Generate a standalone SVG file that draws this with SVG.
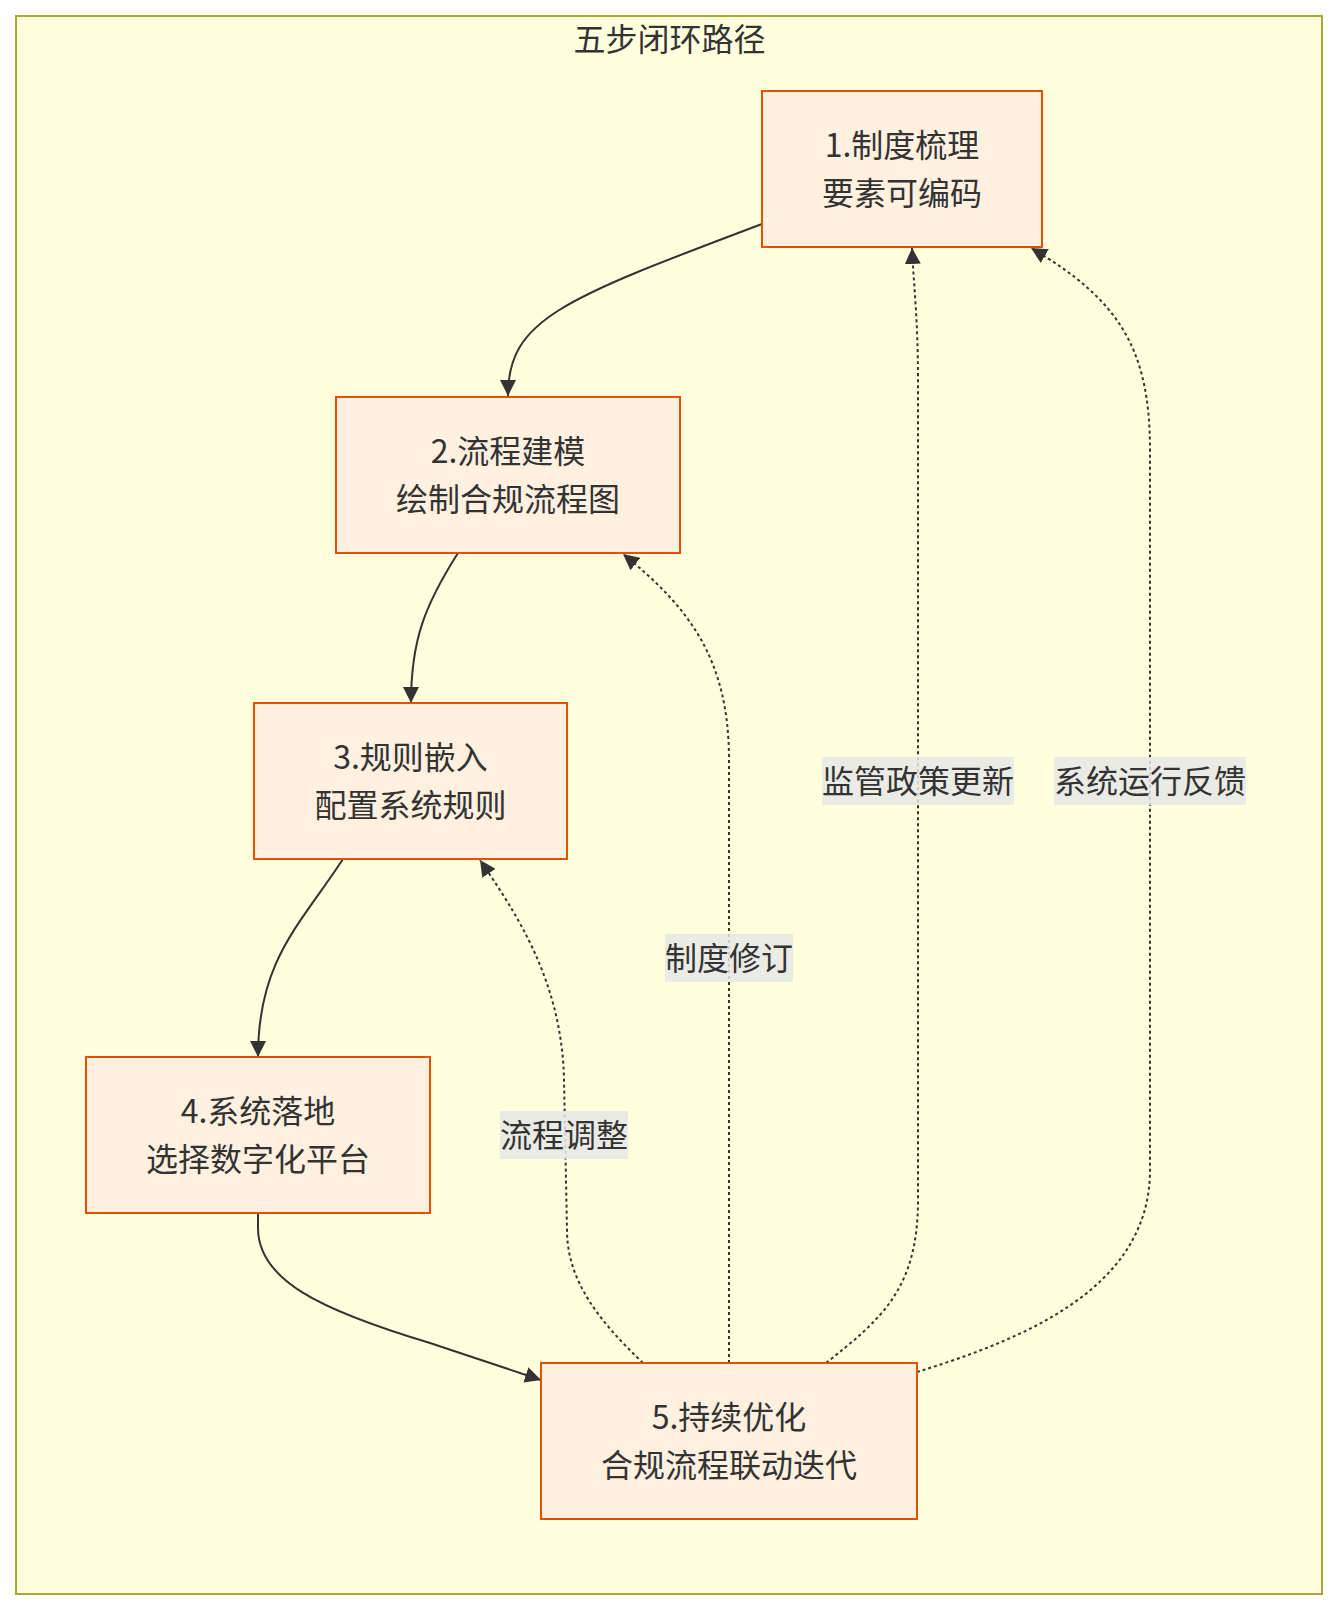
<svg xmlns="http://www.w3.org/2000/svg" width="1339" height="1610" viewBox="0 0 1339 1610">
<style>
.cluster{fill:#ffffde;stroke:#aaaa33;stroke-width:2}
.node rect{fill:#fff0e0;stroke:#e65100;stroke-width:2}
text{font-family:"Noto Sans CJK SC","Noto Sans",sans-serif;font-size:32px;fill:#333;text-anchor:middle}
.edge{fill:none;stroke:#333;stroke-width:2}
.dot{stroke-dasharray:3 3}
.lbl rect{fill:#e8e8e8;opacity:0.85}
</style>
<defs>
<marker id="arrow" markerUnits="userSpaceOnUse" markerWidth="16" markerHeight="16" viewBox="0 0 10 10" refX="10" refY="5" orient="auto">
<path d="M0,0 L10,5 L0,10 z" fill="#333"/>
</marker>
</defs>
<rect class="cluster" x="16" y="16" width="1306" height="1578"/>
<text x="669.5" y="51">五步闭环路径</text>
<g id="edges">
<path class="edge" d="M762,224 C560,300 508,320 508,396" marker-end="url(#arrow)"/>
<path class="edge" d="M458,553 C425,605 411,640 411,703" marker-end="url(#arrow)"/>
<path class="edge" d="M343,859 C300,925 258,960 258,1057" marker-end="url(#arrow)"/>
<path class="edge" d="M258,1213 L258,1228 C258,1280 320,1310 430,1343 L541,1380" marker-end="url(#arrow)"/>
<path class="edge dot" d="M643,1363 C598,1320 567,1280 567,1230 L564,1080 C562,980 515,912 480,860" marker-end="url(#arrow)"/>
<path class="edge dot" d="M729,1363 L729,760 C729,660 690,608 623,554" marker-end="url(#arrow)"/>
<path class="edge dot" d="M826,1363 C880,1320 918,1290 918,1200 L918,380 C918,320 914,290 912,248" marker-end="url(#arrow)"/>
<path class="edge dot" d="M917,1372 C1020,1340 1150,1290 1150,1170 L1150,450 C1150,350 1120,300 1031,248" marker-end="url(#arrow)"/>
<g class="lbl"><rect x="500" y="1111" width="128" height="48"/><text x="564" y="1147">流程调整</text></g>
<g class="lbl"><rect x="665" y="934" width="128" height="48"/><text x="729" y="970">制度修订</text></g>
<g class="lbl"><rect x="822" y="757" width="192" height="48"/><text x="918" y="793">监管政策更新</text></g>
<g class="lbl"><rect x="1054" y="757" width="192" height="48"/><text x="1150" y="793">系统运行反馈</text></g>
</g>
<g id="n1" class="node"><rect x="762" y="91" width="280" height="156"/><text x="902" y="157">1.制度梳理</text><text x="902" y="205">要素可编码</text></g>
<g id="n2" class="node"><rect x="336" y="397" width="344" height="156"/><text x="508" y="463">2.流程建模</text><text x="508" y="511">绘制合规流程图</text></g>
<g id="n3" class="node"><rect x="254" y="703" width="313" height="156"/><text x="410.5" y="769">3.规则嵌入</text><text x="410.5" y="817">配置系统规则</text></g>
<g id="n4" class="node"><rect x="86" y="1057" width="344" height="156"/><text x="258" y="1123">4.系统落地</text><text x="258" y="1171">选择数字化平台</text></g>
<g id="n5" class="node"><rect x="541" y="1363" width="376" height="156"/><text x="729" y="1429">5.持续优化</text><text x="729" y="1477">合规流程联动迭代</text></g>
</svg>
